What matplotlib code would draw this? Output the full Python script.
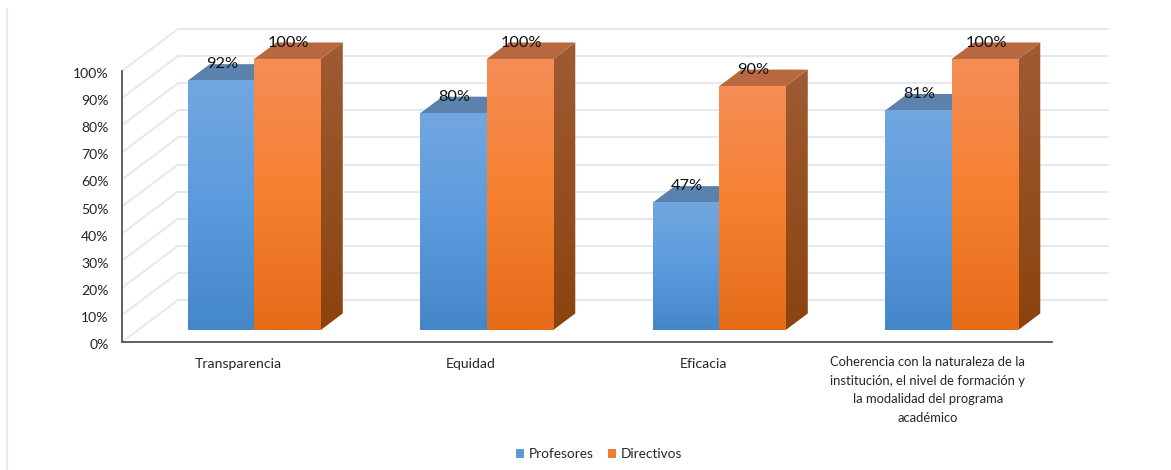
import matplotlib
matplotlib.use("Agg")
import matplotlib.pyplot as plt
from matplotlib.colors import LinearSegmentedColormap
from matplotlib.lines import Line2D
from matplotlib.patches import Polygon, Patch
from matplotlib.transforms import ScaledTranslation
import numpy as np

categories = [
    "Transparencia",
    "Equidad",
    "Eficacia",
    "Coherencia con la naturaleza de la\ninstitución, el nivel de formación y\nla modalidad del programa\nacadémico",
]
profesores = [92, 80, 47, 81]
directivos = [100, 100, 90, 100]
y_ticks = list(range(0, 101, 10))

plt.rcParams["font.family"] = ["Lato", "DejaVu Sans"]

W, H = 1171, 470
fig = plt.figure(figsize=(W / 100, H / 100), dpi=100, facecolor="white")
ax = fig.add_axes([122 / W, (H - 342) / H, 930 / W, 271 / H])
ax.set_xlim(-0.5, 3.5)
ax.set_ylim(0, 100)

# Oblique projection: one unit of depth moves a point right and up the wall.
DEPTH_X = 56 / 232.5
DEPTH_Y = 42 / 2.71
BAR_W = 66.5 / 232.5
BAR_FRONT = 0.286
BAR_BACK = 0.679
GRID = "#E4E6EE"


def proj(x, y, d):
    return x + d * DEPTH_X, y + d * DEPTH_Y


def gradient(stops, extent, clip=None, z=3):
    cmap = LinearSegmentedColormap.from_list("g", stops)
    ramp = np.linspace(0, 1, 256).reshape(-1, 1)
    im = ax.imshow(ramp, cmap=cmap, extent=extent, aspect="auto",
                   origin="upper", zorder=z, vmin=0, vmax=1)
    im.set_clip_box(fig.bbox)
    if clip is not None:
        im.set_clip_path(Polygon(clip, closed=True, transform=ax.transData))
    else:
        im.set_clip_path(None)
    return im


def draw_bar(i, offset, value, front, top, side, z):
    x0 = i + offset
    x1 = x0 + BAR_W
    a = proj(x0, 0, BAR_FRONT)
    b = proj(x1, value, BAR_FRONT)
    # right face, behind the front
    face = [proj(x1, 0, BAR_FRONT), proj(x1, 0, BAR_BACK),
            proj(x1, value, BAR_BACK), proj(x1, value, BAR_FRONT)]
    ys = [p[1] for p in face]
    xs = [p[0] for p in face]
    gradient(side, (min(xs), max(xs), min(ys), max(ys)), clip=face, z=z)
    # top face
    ax.add_patch(Polygon([proj(x0, value, BAR_FRONT), proj(x1, value, BAR_FRONT),
                          proj(x1, value, BAR_BACK), proj(x0, value, BAR_BACK)],
                         closed=True, fc=top, ec="none", zorder=z, clip_on=False))
    # front face
    gradient(front, (a[0], b[0], a[1], b[1]), z=z + 0.5)
    ax.annotate(f"{value}%", xy=((a[0] + b[0]) / 2, b[1]), xytext=(0.8, 11.8),
                textcoords="offset points", ha="center", va="center",
                fontsize=11.8, color="#111111", zorder=20, annotation_clip=False)


# Walls: gridlines run along the back and slant down the left side.
for t in y_ticks:
    bx0, by = proj(-0.5, t, 1)
    bx1, _ = proj(3.5, t, 1)
    ax.plot([bx0, bx1], [by, by], color=GRID, lw=1.3, zorder=1, clip_on=False)
    ax.plot([-0.5, bx0], [t, by], color=GRID, lw=1.3, zorder=1, clip_on=False)

blue_front = ["#72A7E0", "#5B9BDD", "#4487C8"]
blue_top = "#5A82AC"
blue_side = ["#3E6A96", "#2F5B88"]
orange_front = ["#F58D56", "#F6802F", "#E56C19"]
orange_top = "#B9693F"
orange_side = ["#9F5B33", "#8B430E"]

for i in range(len(categories)):
    draw_bar(i, -BAR_W, profesores[i], blue_front, blue_top, blue_side, 3)
    draw_bar(i, 0, directivos[i], orange_front, orange_top, orange_side, 5)

ax.set_xlim(-0.5, 3.5)
ax.set_ylim(0, 100)

for s in ("top", "right"):
    ax.spines[s].set_visible(False)
for s in ("left", "bottom"):
    ax.spines[s].set_color("#555555")
    ax.spines[s].set_linewidth(1.3)
ax.patch.set_alpha(0)

ax.set_yticks(y_ticks)
ax.set_yticklabels([f"{t}%" for t in y_ticks], fontsize=10.1, color="#262626")
ax.set_xticks(range(len(categories)))
ax.set_xticklabels(categories, fontsize=10.1, color="#262626", linespacing=1.55)
ax.tick_params(axis="both", length=0)
ax.tick_params(axis="x", pad=11.5)
ax.tick_params(axis="y", pad=9.5)

for lab in ax.get_yticklabels():
    lab.set_transform(lab.get_transform()
                      + ScaledTranslation(0, -2 / 100, fig.dpi_scale_trans))

long_label = ax.get_xticklabels()[-1]
long_label.set_fontsize(9.4)
long_label.set_linespacing(1.66)
long_label.set_transform(long_label.get_transform()
                         + ScaledTranslation(-8 / 100, 2 / 100, fig.dpi_scale_trans))

fig.legend(handles=[Patch(fc="#5B9BD5", label="Profesores"),
                    Patch(fc="#ED7D31", label="Directivos")],
           loc="center", bbox_to_anchor=(599 / W, 1 - 454 / H), ncol=2,
           frameon=False, fontsize=9.8, handlelength=0.6, handleheight=0.6,
           handletextpad=0.35, columnspacing=1.0, labelcolor="#262626")

# Thin rule along the left edge of the figure
fig.add_artist(Line2D([6.5 / W, 6.5 / W], [0, 1 - 9 / H], color="#E3E9EE", lw=1.2))

fig.savefig("out.png", dpi=100)
